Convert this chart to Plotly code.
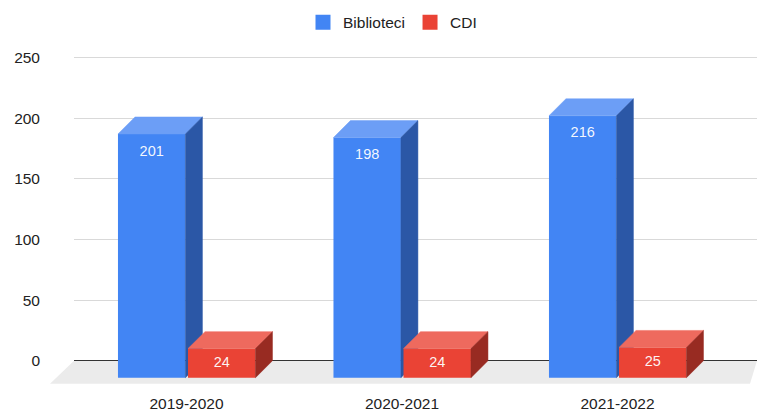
import plotly.graph_objects as go

categories = ["2019-2020", "2020-2021", "2021-2022"]
biblioteci = [201, 198, 216]
cdi = [24, 24, 25]
y_ticks = [0, 50, 100, 150, 200, 250]

# ---- geometry / style (not data) ----
W, H = 757, 410
PLOT_L, PLOT_R = 74, 757
Y0_PX, K = 361.0, 1.214          # pixel of y=0, pixels per unit
Y_RANGE = [-20, 262]
X_C1, X_STEP = 402.0, 215.5       # pixel of category 1 centre, pixels per category
X_RANGE = [(PLOT_L - X_C1) / X_STEP + 1, (PLOT_R - X_C1) / X_STEP + 1]
DEPTH_PX = 17
D = DEPTH_PX / K                  # depth in y units
DX = DEPTH_PX / X_STEP            # depth in x units
BAR_W = 0.313
OFFSETS = {"Biblioteci": -0.318, "CDI": 0.007}
COLORS = {
    "Biblioteci": ("#4285F4", "#6C9EF6", "#2B57A6"),
    "CDI": ("#EA4335", "#EE6A5E", "#982B22"),
}
FONT = "Arial, 'Liberation Sans', sans-serif"

top_px = Y0_PX - Y_RANGE[1] * K
bot_px = Y0_PX - Y_RANGE[0] * K

fig = go.Figure()
xs = list(range(len(categories)))
z = 1
for name, vals in (("Biblioteci", biblioteci), ("CDI", cdi)):
    front, top, side = COLORS[name]
    off = OFFSETS[name]
    fig.add_trace(go.Bar(
        x=xs, y=vals, base=[-D] * len(vals), width=BAR_W, offset=off,
        name=name, legendgroup=name, showlegend=False,
        marker=dict(color=front, line=dict(width=0)),
        hoverinfo="skip", zorder=z,
    ))
    # legend swatch (no marks in the plot)
    fig.add_trace(go.Scatter(
        x=[None], y=[None], mode="markers", name=name, legendgroup=name,
        marker=dict(symbol="square", size=15, color=front, line=dict(width=0)),
        showlegend=True, hoverinfo="skip",
    ))
    tx, ty, sx, sy = [], [], [], []
    for i, v in zip(xs, vals):
        x0 = i + off
        x1 = x0 + BAR_W
        tx += [x0, x1, x1 + DX, x0 + DX, x0, None]
        ty += [v - D, v - D, v, v, v - D, None]
        sx += [x1, x1, x1 + DX, x1 + DX, x1, None]
        sy += [-D, v - D, v, 0, -D, None]
    fig.add_trace(go.Scatter(x=tx, y=ty, mode="lines", fill="toself", fillcolor=top,
                             line=dict(width=0.5, color=top), showlegend=False,
                             legendgroup=name, hoverinfo="skip", zorder=z + 1))
    fig.add_trace(go.Scatter(x=sx, y=sy, mode="lines", fill="toself", fillcolor=side,
                             line=dict(width=0.5, color=side), showlegend=False,
                             legendgroup=name, hoverinfo="skip", zorder=z + 1))
    lab_y = [max(v - D - 14.8, (v - 2 * D) / 2) for v in vals]
    fig.add_trace(go.Scatter(x=[i + off + BAR_W / 2 for i in xs], y=lab_y, mode="text",
                             text=[str(v) for v in vals],
                             textfont=dict(family=FONT, size=14.5, color="rgba(255,255,255,0.95)"),
                             showlegend=False, hoverinfo="skip", zorder=10))
    z += 2

# floor (decoration)
pw = PLOT_R - PLOT_L
ph = bot_px - top_px
def px2paper(px, py):
    return (px - PLOT_L) / pw, (bot_px - py) / ph
p = [px2paper(74, Y0_PX), px2paper(757, Y0_PX), px2paper(750, 384), px2paper(50, 384)]
path = "M {} {} L {} {} L {} {} L {} {} Z".format(*[c for pt in p for c in pt])
fig.add_shape(type="path", path=path, xref="paper", yref="paper",
              fillcolor="#EBEBEB", line=dict(width=0), layer="below")

fig.update_layout(
    width=W, height=H,
    margin=dict(l=PLOT_L, r=W - PLOT_R, t=top_px, b=H - bot_px, pad=0, autoexpand=False),
    paper_bgcolor="white", plot_bgcolor="rgba(0,0,0,0)",
    barmode="overlay",
    font=dict(family=FONT, size=15.5, color="#222222"),
    showlegend=True,
    legend=dict(orientation="h", x=(392.5 - PLOT_L) / pw, xanchor="center",
                y=(bot_px - 22.7) / ph, yanchor="middle",
                font=dict(family=FONT, size=15.5, color="#222222"),
                bgcolor="rgba(0,0,0,0)", itemclick=False, itemdoubleclick=False),
    xaxis=dict(range=X_RANGE, tickmode="array", tickvals=xs, ticktext=categories,
               showgrid=False, zeroline=False, showline=False, ticks="",
               ticklabelstandoff=7, fixedrange=True, automargin=False),
    yaxis=dict(range=Y_RANGE, tickmode="array", tickvals=y_ticks,
               ticktext=[str(t) for t in y_ticks],
               showgrid=True, gridcolor="#D9D9D9", gridwidth=1,
               zeroline=True, zerolinecolor="#333333", zerolinewidth=1,
               showline=False, ticks="", ticklabelstandoff=33, fixedrange=True,
               automargin=False),
)

fig.write_html("out.html", config={"displayModeBar": False},
               post_script="document.body.style.margin='0';")
